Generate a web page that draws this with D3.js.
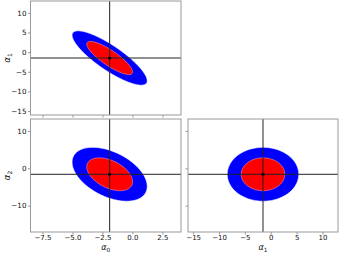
<!DOCTYPE html>
<meta charset="utf-8">
<style>
body { margin: 0; background: #fff; }
text { font-family: "DejaVu Sans", sans-serif; fill: #111; }
.frame { fill: none; stroke: #999; stroke-width: 1px; }
.tick line { stroke: #999; }
.domain { display: none; }
</style>
<svg width="339" height="254"></svg>
<script src="https://d3js.org/d3.v7.min.js"></script>
<script>

// parameters: best-fit values, 1-sigma widths and correlations
var names = ["0", "1", "2"];
var means = [-1.9, -1.5, -1.6];
var sigmas = [1.26, 2.78, 2.9];
var corr = [
  [1, -0.84, -0.45],
  [-0.84, 1, 0.0],
  [-0.45, 0.0, 1]
];
// delta chi2 for 95% and 68% regions in 2D
var levels = [6.18, 2.30];
var levelColors = ["#0000ff", "#ff0000"];

var domains = [[-8.5, 4.05], [-16, 13], [-17.05, 13.2]];
var tickVals = [[-7.5, -5, -2.5, 0, 2.5], [-15, -10, -5, 0, 5, 10], [-10, 0, 10]];
var tickFmt = [d3.format(".1f"), d3.format("d"), d3.format("d")];

var svg = d3.select("svg");

var cols = [[30.5, 181], [188, 338]];
var rows = [[1, 115], [119, 232]];

// panels: [row, col, x param, y param]
var panels = [
  [0, 0, 0, 1],
  [1, 0, 0, 2],
  [1, 1, 1, 2]
];

panels.forEach(function(p, idx) {
  var r = p[0], c = p[1], px = p[2], py = p[3];
  var x = d3.scaleLinear().domain(domains[px]).range(cols[c]);
  var y = d3.scaleLinear().domain(domains[py]).range([rows[r][1], rows[r][0]]);

  var g = svg.append("g");
  var clipId = "clip" + idx;
  g.append("clipPath").attr("id", clipId).append("rect")
      .attr("x", cols[c][0]).attr("y", rows[r][0])
      .attr("width", cols[c][1] - cols[c][0])
      .attr("height", rows[r][1] - rows[r][0]);

  var inner = g.append("g").attr("clip-path", "url(#" + clipId + ")");

  var sx = sigmas[px], sy = sigmas[py], rho = corr[px][py];
  var angles = d3.range(0, 2 * Math.PI, Math.PI / 90);
  var line = d3.line().curve(d3.curveLinearClosed);

  levels.forEach(function(k, i) {
    var s = Math.sqrt(k);
    var pts = angles.map(function(t) {
      var u = Math.cos(t), v = Math.sin(t);
      return [x(means[px] + s * sx * u),
              y(means[py] + s * sy * (rho * u + Math.sqrt(1 - rho * rho) * v))];
    });
    inner.append("path")
        .attr("d", line(pts))
        .attr("fill", levelColors[i])
        .attr("stroke", i == 0 ? "#fff" : "#f99")
        .attr("stroke-width", 0.6);
  });

  inner.append("line")
      .attr("x1", x(means[px])).attr("x2", x(means[px]))
      .attr("y1", rows[r][0]).attr("y2", rows[r][1])
      .attr("stroke", "#222").attr("stroke-width", 1);
  inner.append("line")
      .attr("x1", cols[c][0]).attr("x2", cols[c][1])
      .attr("y1", y(means[py])).attr("y2", y(means[py]))
      .attr("stroke", "#222").attr("stroke-width", 1);
  inner.append("circle")
      .attr("cx", x(means[px])).attr("cy", y(means[py]))
      .attr("r", 1.6).attr("fill", "#000");

  var showX = r == 1, showY = c == 0;

  g.append("g")
      .attr("transform", "translate(0," + rows[r][1] + ")")
      .call(d3.axisBottom(x).tickValues(tickVals[px]).tickSize(2.5).tickPadding(1)
        .tickFormat(showX ? tickFmt[px] : ""))
      .call(function(a) { a.selectAll("text").attr("font-size", 7).attr("font-family", null); });

  g.append("g")
      .attr("transform", "translate(" + cols[c][0] + ",0)")
      .call(d3.axisLeft(y).tickValues(tickVals[py]).tickSize(2.5).tickPadding(1.5)
        .tickFormat(showY ? tickFmt[py] : ""))
      .call(function(a) { a.selectAll("text").attr("font-size", 7.2).attr("font-family", null); });

  g.append("rect").attr("class", "frame")
      .attr("x", cols[c][0]).attr("y", rows[r][0])
      .attr("width", cols[c][1] - cols[c][0])
      .attr("height", rows[r][1] - rows[r][0]);

  if (showX) {
    var tx = g.append("text")
        .attr("x", (cols[c][0] + cols[c][1]) / 2).attr("y", 250)
        .attr("text-anchor", "middle").attr("font-size", 8);
    tx.append("tspan").attr("font-style", "italic").text("α");
    tx.append("tspan").attr("font-size", 5.8).attr("dy", 1.8).text(names[px]);
  }
  if (showY) {
    var cy = (rows[r][0] + rows[r][1]) / 2;
    var ty = g.append("text")
        .attr("transform", "translate(10," + cy + ") rotate(-90)")
        .attr("text-anchor", "middle").attr("font-size", 8.5);
    ty.append("tspan").attr("font-style", "italic").text("α");
    ty.append("tspan").attr("font-size", 6).attr("dy", 2).text(names[py]);
  }
});

</script>
